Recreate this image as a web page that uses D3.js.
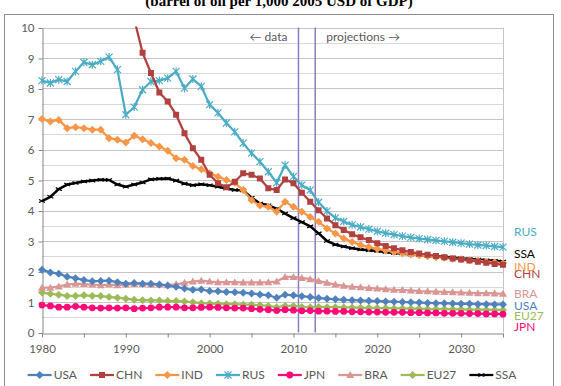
<!DOCTYPE html>
<html>
<head>
<meta charset="utf-8">
<script src="https://cdn.jsdelivr.net/npm/d3@7"></script>
<style>
  body { margin: 0; background: #fff; }
  svg { display: block; }
  text { font-family: Lato, "Open Sans", sans-serif; fill: #595959; }
</style>
</head>
<body>
<div id="chart"></div>
<script>
// years on the x axis
var years = d3.range(1980, 2036);
var xTicks = [1980, 1990, 2000, 2010, 2020, 2030];
var yTicks = [0, 1, 2, 3, 4, 5, 6, 7, 8, 9, 10];
var names = ["USA", "CHN", "IND", "RUS", "JPN", "BRA", "EU27", "SSA"];

var usa = [2.06, 1.97, 1.93, 1.83, 1.78, 1.72, 1.68, 1.69, 1.70, 1.65,
           1.60, 1.62, 1.60, 1.60, 1.57, 1.54, 1.50, 1.44, 1.40, 1.41,
           1.36, 1.35, 1.33, 1.32, 1.30, 1.28, 1.25, 1.22, 1.14, 1.24,
           1.22, 1.19, 1.16, 1.13, 1.11, 1.09, 1.07, 1.06, 1.05, 1.04,
           1.03, 1.02, 1.01, 1.00, 0.99, 0.98, 0.97, 0.96, 0.96, 0.95,
           0.94, 0.94, 0.93, 0.93, 0.92, 0.92];
var chn = [null, null, null, null, null, null, null, null, null, null,
           null, 10.28, 9.17, 8.51, 7.87, 7.57, 7.14, 6.53, 6.04, 5.66,
           5.17, 4.89, 4.76, 4.94, 5.22, 5.17, 5.05, 4.73, 4.67, 5.02,
           4.89, 4.58, 4.29, 4.01, 3.74, 3.52, 3.36, 3.22, 3.12, 3.03,
           2.93, 2.84, 2.76, 2.70, 2.64, 2.59, 2.55, 2.51, 2.47, 2.43,
           2.39, 2.36, 2.32, 2.29, 2.25, 2.22];
var ind = [7.00, 6.92, 6.97, 6.70, 6.73, 6.70, 6.65, 6.65, 6.37, 6.32,
           6.23, 6.45, 6.34, 6.21, 6.10, 5.96, 5.71, 5.66, 5.46, 5.35,
           5.22, 5.11, 5.00, 4.91, 4.67, 4.34, 4.16, 4.12, 3.96, 4.29,
           4.12, 3.96, 3.79, 3.63, 3.41, 3.25, 3.08, 2.97, 2.87, 2.80,
           2.74, 2.69, 2.64, 2.60, 2.56, 2.53, 2.50, 2.47, 2.45, 2.42,
           2.40, 2.37, 2.35, 2.32, 2.30, 2.27];
var rus = [8.26, 8.18, 8.29, 8.23, 8.56, 8.86, 8.78, 8.89, 9.03, 8.62,
           7.14, 7.39, 7.96, 8.23, 8.26, 8.34, 8.56, 8.01, 8.31, 8.07,
           7.47, 7.20, 6.87, 6.58, 6.21, 5.88, 5.60, 5.27, 4.91, 5.49,
           5.11, 4.83, 4.67, 4.27, 3.98, 3.76, 3.64, 3.53, 3.46, 3.39,
           3.32, 3.26, 3.21, 3.16, 3.12, 3.08, 3.05, 3.02, 2.99, 2.96,
           2.93, 2.90, 2.87, 2.85, 2.82, 2.80];
var jpn = [0.90, 0.87, 0.83, 0.83, 0.86, 0.83, 0.81, 0.80, 0.81, 0.80,
           0.81, 0.78, 0.80, 0.81, 0.83, 0.83, 0.83, 0.81, 0.81, 0.82,
           0.83, 0.82, 0.81, 0.80, 0.80, 0.78, 0.76, 0.75, 0.72, 0.75,
           0.73, 0.71, 0.72, 0.70, 0.70, 0.69, 0.69, 0.68, 0.68, 0.67,
           0.67, 0.66, 0.66, 0.66, 0.65, 0.65, 0.64, 0.64, 0.63, 0.63,
           0.63, 0.62, 0.62, 0.61, 0.61, 0.60];
var bra = [1.47, 1.47, 1.51, 1.57, 1.60, 1.59, 1.57, 1.55, 1.57, 1.55,
           1.57, 1.59, 1.59, 1.57, 1.57, 1.55, 1.58, 1.63, 1.67, 1.70,
           1.67, 1.65, 1.65, 1.65, 1.64, 1.64, 1.64, 1.65, 1.67, 1.82,
           1.82, 1.79, 1.75, 1.69, 1.63, 1.57, 1.53, 1.50, 1.48, 1.46,
           1.44, 1.42, 1.40, 1.39, 1.38, 1.36, 1.35, 1.34, 1.33, 1.32,
           1.31, 1.30, 1.29, 1.29, 1.28, 1.27];
var eu27 = [1.31, 1.27, 1.24, 1.20, 1.20, 1.22, 1.20, 1.20, 1.16, 1.14,
            1.11, 1.07, 1.06, 1.05, 1.05, 1.03, 1.03, 1.02, 0.99, 0.96,
            0.95, 0.94, 0.93, 0.93, 0.91, 0.91, 0.89, 0.87, 0.83, 0.87,
            0.87, 0.84, 0.83, 0.84, 0.83, 0.83, 0.82, 0.82, 0.81, 0.81,
            0.80, 0.80, 0.79, 0.79, 0.78, 0.78, 0.77, 0.77, 0.77, 0.76,
            0.76, 0.75, 0.75, 0.75, 0.74, 0.74];
var ssa = [4.31, 4.45, 4.70, 4.85, 4.90, 4.95, 4.98, 5.01, 5.00, 4.85,
           4.78, 4.85, 4.92, 5.02, 5.04, 5.05, 4.98, 4.88, 4.83, 4.86,
           4.83, 4.78, 4.72, 4.67, 4.66, 4.42, 4.23, 4.17, 4.06, 3.90,
           3.75, 3.62, 3.48, 3.25, 3.00, 2.88, 2.82, 2.76, 2.72, 2.70,
           2.67, 2.64, 2.61, 2.59, 2.56, 2.54, 2.52, 2.50, 2.48, 2.46,
           2.43, 2.41, 2.39, 2.37, 2.35, 2.33];

// last historical year / first projection year markers
var dividers = [2010.6, 2012.6];

var values = [usa, chn, ind, rus, jpn, bra, eu27, ssa];
var colors = ["#4f81bd", "#b0413e", "#f79646", "#4bacc6", "#ff0a78", "#d99694", "#9bbb59", "#000000"];
var markers = ["diamond", "square", "diamond", "star", "circle", "triangle", "diamond", "dash"];

var W = 561, H = 386;
var svg = d3.select("#chart").append("svg").attr("width", W).attr("height", H);

var x = d3.scaleLinear().domain([1980, 2035]).range([42, 503]);
var y = d3.scaleLinear().domain([0, 10]).range([332.5, 27.5]);

svg.append("text")
  .attr("x", 279).attr("y", 6)
  .attr("text-anchor", "middle")
  .style("font-family", "'Liberation Serif', 'Times New Roman', serif")
  .style("font-weight", "bold")
  .style("font-size", "15px")
  .style("fill", "#000")
  .text("(barrel of oil per 1,000 2005 USD of GDP)");

svg.append("rect")
  .attr("x", 4.5).attr("y", 14.5)
  .attr("width", 549).attr("height", 380)
  .attr("fill", "none").attr("stroke", "#8c8c8c");

// gridlines (minor every 0.5, major every 1)
var grid = svg.append("g");
grid.selectAll("line.minor")
  .data(d3.range(0.5, 10, 1))
  .enter().append("line")
  .attr("x1", x(1980)).attr("x2", x(2035))
  .attr("y1", function(d) { return Math.round(y(d)) + 0.5; })
  .attr("y2", function(d) { return Math.round(y(d)) + 0.5; })
  .attr("stroke", "#d9d9d9");
grid.selectAll("line.major")
  .data(yTicks.slice(1))
  .enter().append("line")
  .attr("x1", x(1980)).attr("x2", x(2035))
  .attr("y1", function(d) { return Math.round(y(d)) + 0.5; })
  .attr("y2", function(d) { return Math.round(y(d)) + 0.5; })
  .attr("stroke", "#c4c4c4");
grid.append("line")
  .attr("x1", x(2035) + 0.5).attr("x2", x(2035) + 0.5)
  .attr("y1", y(10)).attr("y2", y(0))
  .attr("stroke", "#c4c4c4");

// axes
var yAxis = svg.append("g")
  .attr("transform", "translate(" + (x(1980) + 0.5) + ",0.5)")
  .call(d3.axisLeft(y).tickValues(yTicks).tickSize(4).tickSizeOuter(0));
var xAxis = svg.append("g")
  .attr("transform", "translate(0," + (Math.round(y(0)) + 0.5) + ")")
  .call(d3.axisBottom(x).tickValues(d3.range(1980, 2036, 5)).tickSize(4).tickSizeOuter(0)
    .tickFormat(function(d) { return xTicks.indexOf(d) >= 0 ? d : ""; }));
[yAxis, xAxis].forEach(function(a) {
  a.select(".domain").attr("stroke", "#868686");
  a.selectAll(".tick line").attr("stroke", "#868686");
  a.selectAll("text").style("font-size", "11.5px").style("fill", "#595959")
    .style("font-family", "Lato, sans-serif");
});
yAxis.selectAll("text").attr("x", -8);
xAxis.selectAll("text").attr("y", 11);

// data / projections dividers
svg.selectAll("line.divider")
  .data(dividers)
  .enter().append("line")
  .attr("x1", function(d) { return x(d); })
  .attr("x2", function(d) { return x(d); })
  .attr("y1", y(10)).attr("y2", y(0))
  .attr("stroke", "#8a7dbf").attr("stroke-width", 1.5);

svg.append("text")
  .attr("x", x(dividers[0]) - 11).attr("y", 41)
  .attr("text-anchor", "end")
  .style("font-size", "12px")
  .text("\u2190 data");
svg.append("text")
  .attr("x", x(dividers[1]) + 11).attr("y", 41)
  .style("font-size", "12px")
  .text("projections \u2192");

svg.append("clipPath").attr("id", "plotclip")
  .append("rect")
  .attr("x", x(1980) - 6).attr("y", y(10) - 1)
  .attr("width", x(2035) - x(1980) + 12).attr("height", y(0) - y(10) + 6);

function markerPath(kind) {
  if (kind == "diamond") return "M0,-4L4,0L0,4L-4,0Z";
  if (kind == "square") return "M-3,-3L3,-3L3,3L-3,3Z";
  if (kind == "circle") return d3.symbol().type(d3.symbolCircle).size(36)();
  if (kind == "triangle") return "M0,-4L4,3L-4,3Z";
  if (kind == "star") return "M-3.5,-3.5L3.5,3.5M-3.5,3.5L3.5,-3.5M0,-4L0,4";
  return "M-3,-1.5L3,1.5M-3,1.5L3,-1.5";
}
function isStroke(kind) { return kind == "star" || kind == "dash"; }

var line = d3.line()
  .defined(function(d) { return d.v != null; })
  .x(function(d) { return x(d.year); })
  .y(function(d) { return y(d.v); });

var plot = svg.append("g").attr("clip-path", "url(#plotclip)");

// draw in reverse so USA ends up on top, like the original
for (var i = names.length - 1; i >= 0; i--) {
  var pts = years.map(function(yr, k) { return { year: yr, v: values[i][k] }; });
  var g = plot.append("g");
  g.append("path")
    .datum(pts)
    .attr("d", line)
    .attr("fill", "none")
    .attr("stroke", colors[i])
    .attr("stroke-width", i == 7 ? 2.5 : 2.25)
    .attr("stroke-linejoin", "round");
  g.selectAll("path.mk")
    .data(pts.filter(function(d) { return d.v != null; }))
    .enter().append("path")
    .attr("transform", function(d) { return "translate(" + x(d.year) + "," + y(d.v) + ")"; })
    .attr("d", markerPath(markers[i]))
    .attr("fill", isStroke(markers[i]) ? "none" : colors[i])
    .attr("stroke", colors[i])
    .attr("stroke-width", isStroke(markers[i]) ? 1.2 : 0);
}

// end labels on the right
var endLabels = { RUS: 3.29, SSA: 2.57, IND: 2.17, CHN: 1.94, BRA: 1.28, USA: 0.89, EU27: 0.56, JPN: 0.2 };
names.forEach(function(n, i) {
  svg.append("text")
    .attr("x", 514).attr("y", y(endLabels[n]))
    .attr("dy", "0.35em")
    .style("font-size", "12px")
    .style("fill", colors[i])
    .text(n);
});

// legend
var legend = svg.append("g").attr("transform", "translate(0,375)");
var items = [];
names.forEach(function(n, i) {
  var it = legend.append("g");
  it.append("line").attr("x1", 0).attr("x2", 24).attr("y1", 0).attr("y2", 0)
    .attr("stroke", colors[i]).attr("stroke-width", 2.25);
  it.append("path").attr("transform", "translate(12,0)")
    .attr("d", markerPath(markers[i]))
    .attr("fill", isStroke(markers[i]) ? "none" : colors[i])
    .attr("stroke", colors[i])
    .attr("stroke-width", isStroke(markers[i]) ? 1.2 : 0);
  var t = it.append("text").attr("x", 26).attr("dy", "0.35em")
    .style("font-size", "12px").text(n);
  items.push({ g: it, w: 26 + t.node().getComputedTextLength() });
});
var gap = 13;
var total = d3.sum(items, function(d) { return d.w; }) + gap * (items.length - 1);
var cx = 272 - total / 2;
items.forEach(function(d) {
  d.g.attr("transform", "translate(" + cx + ",0)");
  cx += d.w + gap;
});
</script>
</body>
</html>
